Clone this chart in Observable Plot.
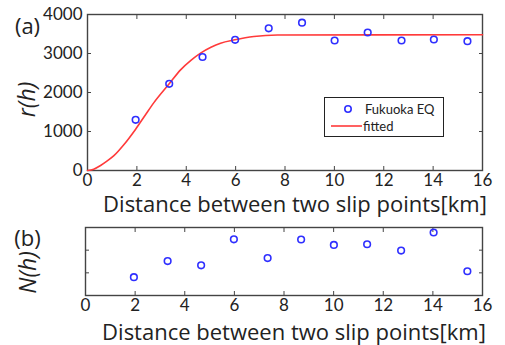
<!DOCTYPE html>
<html><head><meta charset="utf-8">
<script src="https://cdn.jsdelivr.net/npm/d3@7"></script>
<script src="https://cdn.jsdelivr.net/npm/@observablehq/plot@0.6"></script>
<style>
body{margin:0;background:#fff;}
#wrap{position:relative;width:505px;height:345px;font-family:Lato,sans-serif;overflow:hidden;}
#top{position:absolute;left:0;top:0}
#bot{position:absolute;left:0;top:215px}
#legend{position:absolute;left:324px;top:97px;width:118px;height:38px;border:1px solid #222;background:#fff;font-size:13px;color:#222}
#legend svg{position:absolute;left:0;top:0}
#legend span{position:absolute;white-space:nowrap;line-height:16px}
</style></head><body>
<div id="wrap"><div id="top"></div><div id="bot"></div><div id="legend"></div></div>
<script>
// observed data (Fukuoka EQ)
const distance = [1.95, 3.31, 4.66, 5.98, 7.34, 8.69, 10.01, 11.35, 12.72, 14.03, 15.39];
const rObs = [1300, 2223, 2910, 3351, 3645, 3790, 3333, 3538, 3333, 3359, 3315];
const nObs = [0.81, 1.52, 1.33, 2.48, 1.65, 2.47, 2.23, 2.26, 1.98, 2.78, 1.07];
// fitted curve
const fitX = [0, 0.25, 0.53, 0.8, 1.07, 1.47, 1.95, 2.35, 2.69, 3.31, 3.77, 4.2, 4.58, 5.0, 5.39, 5.97, 6.74, 7.69, 16];
const fitR = [0, 35, 128, 245, 380, 660, 1060, 1430, 1740, 2223, 2580, 2830, 3010, 3160, 3265, 3351, 3436, 3475, 3480];
// ticks
const xTicks = [0, 2, 4, 6, 8, 10, 12, 14, 16];
const rTicks = [0, 1000, 2000, 3000, 4000];
const nTicks = [1, 2];
const xLabel = "Distance between two slip points[km]";

const obs = distance.map((d, i) => ({d, r: rObs[i], n: nObs[i]}));
const fit = fitX.map((x, i) => ({x, r: fitR[i]}));

const blue = "#2f2fff", red = "#ff3a3a", frameColor = "#444", txt = "#222";
const style = {fontFamily: "Lato, sans-serif", fontSize: "17px", color: txt, background: "transparent"};
const titleFont = "'Open Sans', sans-serif";
const fmt = d => String(d);

const topPlot = Plot.plot({
  width: 505, height: 224, marginLeft: 87, marginRight: 23, marginTop: 14, marginBottom: 54,
  style,
  x: {domain: [0, 16]},
  y: {domain: [0, 4000]},
  marks: [
    Plot.frame({stroke: frameColor, strokeWidth: 1.4}),
    Plot.axisX(xTicks, {anchor: "bottom", tickSize: 0, tickPadding: 3, tickFormat: fmt, label: null, fontSize: 17}),
    Plot.axisX(xTicks, {anchor: "bottom", tickSize: -4, tickFormat: () => "", label: null, stroke: frameColor}),
    Plot.axisX(xTicks, {anchor: "top", tickSize: -4, tickFormat: () => "", label: null, stroke: frameColor}),
    Plot.axisY(rTicks, {anchor: "left", tickSize: 0, tickPadding: 5, tickFormat: fmt, label: null, fontSize: 17}),
    Plot.axisY(rTicks, {anchor: "left", tickSize: -4, tickFormat: () => "", label: null, stroke: frameColor}),
    Plot.axisY(rTicks, {anchor: "right", tickSize: -4, tickFormat: () => "", label: null, stroke: frameColor}),
    Plot.line(fit, {x: "x", y: "r", stroke: red, strokeWidth: 1.6, curve: "monotone-x"}),
    Plot.dot(obs, {x: "d", y: "r", r: 3.3, stroke: blue, strokeWidth: 1.6, fill: "none"}),
    Plot.text([xLabel], {frameAnchor: "bottom", lineAnchor: "bottom", textAnchor: "middle", dx: 10, dy: 41, fontSize: 22, fontFamily: titleFont, fill: txt}),
    Plot.text(["(a)"], {frameAnchor: "top-left", lineAnchor: "middle", textAnchor: "middle", dx: -60, dy: 12, fontSize: 22, fontFamily: titleFont, fill: txt}),
    Plot.text(["r(h)"], {frameAnchor: "left", lineAnchor: "middle", textAnchor: "middle", dx: -60, dy: 7, rotate: -90, fontSize: 23, fontFamily: titleFont, fontStyle: "italic", fill: txt})
  ]
});
document.getElementById("top").appendChild(topPlot);

const botPlot = Plot.plot({
  width: 505, height: 130, marginLeft: 85, marginRight: 23, marginTop: 12, marginBottom: 50,
  style,
  x: {domain: [0, 16]},
  y: {domain: [0, 3]},
  marks: [
    Plot.frame({stroke: frameColor, strokeWidth: 1.4}),
    Plot.axisX(xTicks, {anchor: "bottom", tickSize: 0, tickPadding: 3, tickFormat: fmt, label: null, fontSize: 17}),
    Plot.axisX(xTicks, {anchor: "bottom", tickSize: -4, tickFormat: () => "", label: null, stroke: frameColor}),
    Plot.axisX(xTicks, {anchor: "top", tickSize: -4, tickFormat: () => "", label: null, stroke: frameColor}),
    Plot.axisY(nTicks, {anchor: "left", tickSize: -4, tickFormat: () => "", label: null, stroke: frameColor}),
    Plot.axisY(nTicks, {anchor: "right", tickSize: -4, tickFormat: () => "", label: null, stroke: frameColor}),
    Plot.dot(obs, {x: "d", y: "n", r: 3.3, stroke: blue, strokeWidth: 1.6, fill: "none"}),
    Plot.text([xLabel], {frameAnchor: "bottom", lineAnchor: "bottom", textAnchor: "middle", dx: 10, dy: 44, fontSize: 22, fontFamily: titleFont, fill: txt}),
    Plot.text(["(b)"], {frameAnchor: "top-left", lineAnchor: "middle", textAnchor: "middle", dx: -58, dy: 11, fontSize: 22, fontFamily: titleFont, fill: txt}),
    Plot.text(["N(h)"], {frameAnchor: "left", lineAnchor: "middle", textAnchor: "middle", dx: -57, dy: 11, rotate: -90, fontSize: 23, fontFamily: titleFont, fontStyle: "italic", fill: txt})
  ]
});
document.getElementById("bot").appendChild(botPlot);

// legend
const lg = document.getElementById("legend");
lg.innerHTML =
  `<svg width="118" height="38">
     <circle cx="23" cy="11" r="3.2" fill="none" stroke="${blue}" stroke-width="1.6"></circle>
     <line x1="6" x2="37" y1="28" y2="28" stroke="${red}" stroke-width="1.6"></line>
   </svg>
   <span style="left:40px;top:3px">Fukuoka EQ</span>
   <span style="left:38px;top:20px">fitted</span>`;
</script>
</body></html>
